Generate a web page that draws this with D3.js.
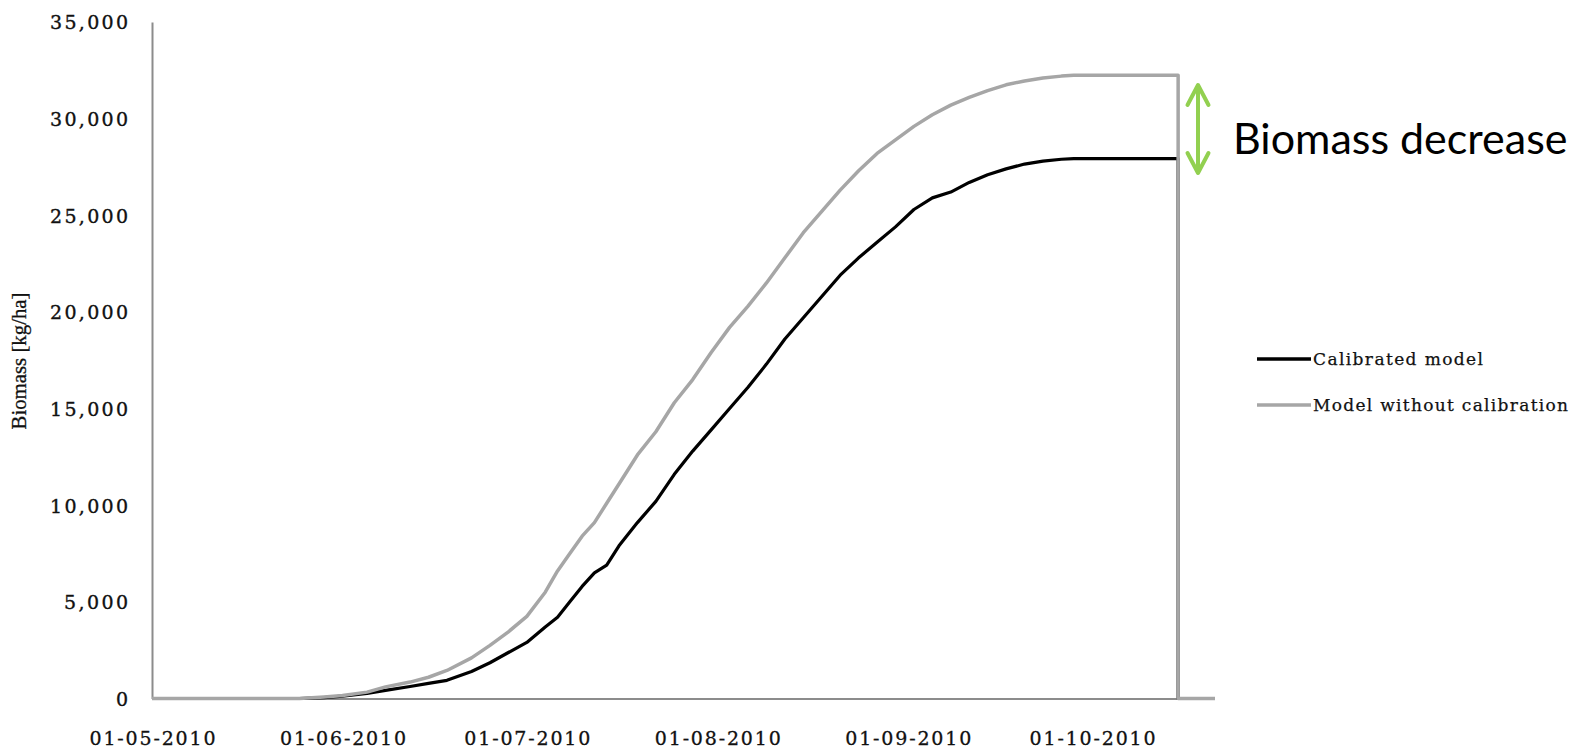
<!DOCTYPE html>
<html>
<head>
<meta charset="utf-8">
<script src="https://cdn.jsdelivr.net/npm/d3@7"></script>
<style>
  html, body { margin: 0; padding: 0; background: #ffffff; }
  svg { display: block; }
</style>
</head>
<body>
<svg id="chart" width="1585" height="751"></svg>
<script>
// ---- data ----
const dates = ["2010-05-01","2010-05-25","2010-05-29","2010-06-01","2010-06-05","2010-06-08","2010-06-12","2010-06-15","2010-06-18","2010-06-22","2010-06-25","2010-06-28","2010-07-01","2010-07-04","2010-07-06","2010-07-08","2010-07-10","2010-07-12","2010-07-14","2010-07-16","2010-07-19","2010-07-22","2010-07-25","2010-07-28","2010-07-31","2010-08-03","2010-08-06","2010-08-09","2010-08-12","2010-08-15","2010-08-18","2010-08-21","2010-08-24","2010-08-27","2010-08-30","2010-09-02","2010-09-05","2010-09-08","2010-09-11","2010-09-14","2010-09-17","2010-09-20","2010-09-23","2010-09-26","2010-09-28","2010-10-15","2010-10-15","2010-10-21"];
const calibrated = [0,0,50,120,260,420,620,780,940,1400,1850,2380,2900,3700,4200,5000,5800,6500,6900,7900,9100,10200,11600,12800,13900,15000,16100,17300,18600,19700,20800,21900,22800,23600,24400,25300,25900,26200,26700,27100,27400,27650,27800,27900,27930,27930,0,0];
const uncalibrated = [0,0,80,150,330,600,850,1100,1450,2100,2750,3450,4250,5500,6600,7500,8400,9100,10100,11100,12600,13800,15300,16500,17900,19200,20300,21500,22800,24100,25200,26300,27300,28200,28900,29600,30200,30700,31100,31450,31750,31950,32100,32200,32240,32240,0,0];
const seriesNames = ["Calibrated model", "Model without calibration"];
const xTickDates = ["2010-05-01","2010-06-01","2010-07-01","2010-08-01","2010-09-01","2010-10-01"];
const yTicks = [0,5000,10000,15000,20000,25000,30000,35000];
const axisTitle = "Biomass [kg/ha]";
const annotation = "Biomass decrease";

// ---- scales ----
const parse = d3.timeParse("%Y-%m-%d");
const svg = d3.select("#chart");
const x = d3.scaleTime()
  .domain([parse("2010-05-01"), parse("2010-10-21")])
  .range([152, 1215]);
const y = d3.scaleLinear().domain([0, 35000]).range([698.5, 22]);

const axisColor = "#8c8c8c";
const textColor = "#111111";

// ---- y axis ----
const yAxis = d3.axisLeft(y).tickValues(yTicks).tickFormat(d3.format(",")).tickSize(0).tickPadding(24);
const gy = svg.append("g").attr("transform", "translate(152,0)").call(yAxis);
gy.select(".domain").attr("stroke", axisColor).attr("stroke-width", 2);
gy.selectAll("text")
  .attr("font-family", "'DejaVu Serif', serif")
  .attr("font-size", 19)
  .attr("fill", textColor)
  .attr("stroke", textColor).attr("stroke-width", 0.35)
  .attr("dy", "0.36em")
  .each(function(d) {
    const s = d3.format(",")(d);
    const w = s.length === 6 ? 78 : s.length === 5 ? 64 : 13;
    d3.select(this).attr("textLength", w).attr("lengthAdjust", "spacing");
  });

// ---- x axis ----
const xEnd = parse("2010-10-15");
const xa = x.copy().domain([parse("2010-05-01"), xEnd]).range([x(parse("2010-05-01")), x(xEnd)]);
const xAxis = d3.axisBottom(xa).tickValues(xTickDates.map(parse)).tickFormat(d3.timeFormat("%d-%m-%Y")).tickSize(0).tickPadding(33);
const gx = svg.append("g").attr("transform", "translate(0," + y(0) + ")").call(xAxis);
gx.select(".domain").attr("stroke", axisColor).attr("stroke-width", 2);
gx.selectAll("text")
  .attr("font-family", "'DejaVu Serif', serif")
  .attr("font-size", 19)
  .attr("fill", textColor)
  .attr("stroke", textColor).attr("stroke-width", 0.3)
  .attr("textLength", 126)
  .attr("lengthAdjust", "spacing");

// ---- axis title ----
svg.append("text")
  .attr("transform", "translate(26,361) rotate(-90)")
  .attr("text-anchor", "middle")
  .attr("font-family", "'Liberation Serif', serif")
  .attr("font-size", 21)
  .attr("fill", textColor)
  .attr("stroke", textColor).attr("stroke-width", 0.3)
  .attr("textLength", 137)
  .attr("lengthAdjust", "spacingAndGlyphs")
  .text(axisTitle);

// ---- lines ----
const toPts = vals => dates.map((d, i) => ({ date: parse(d), v: vals[i] }));
const line = d3.line().x(d => x(d.date)).y(d => y(d.v));
svg.append("path").datum(toPts(calibrated))
  .attr("fill", "none").attr("stroke", "#000000").attr("stroke-width", 3.2)
  .attr("stroke-linejoin", "round").attr("d", line);
svg.append("path").datum(toPts(uncalibrated))
  .attr("fill", "none").attr("stroke", "#a6a6a6").attr("stroke-width", 3.5)
  .attr("stroke-linejoin", "round").attr("d", line);

// ---- legend ----
const legColors = ["#000000", "#a6a6a6"];
const legY = [359, 405];
const legW = [170, 255];
seriesNames.forEach((name, i) => {
  svg.append("line").attr("x1", 1257).attr("x2", 1311).attr("y1", legY[i]).attr("y2", legY[i])
    .attr("stroke", legColors[i]).attr("stroke-width", 3.5);
  svg.append("text").attr("x", 1313).attr("y", legY[i]).attr("dy", "0.35em")
    .attr("font-family", "'DejaVu Serif', serif").attr("font-size", 17)
    .attr("fill", textColor)
    .attr("stroke", textColor).attr("stroke-width", 0.25)
    .attr("textLength", legW[i]).attr("lengthAdjust", "spacing")
    .text(name);
});

// ---- annotation arrow ----
const green = "#92d050";
const ax = 1198, ay1 = 85, ay2 = 173;
svg.append("line").attr("x1", ax).attr("x2", ax).attr("y1", ay1 + 1).attr("y2", ay2 - 1)
  .attr("stroke", green).attr("stroke-width", 4);
svg.append("path").attr("d", `M${ax-10.5},${ay1+20} L${ax},${ay1} L${ax+10.5},${ay1+20}`)
  .attr("fill", "none").attr("stroke", green).attr("stroke-width", 4).attr("stroke-linecap", "round").attr("stroke-linejoin", "round");
svg.append("path").attr("d", `M${ax-10.5},${ay2-20} L${ax},${ay2} L${ax+10.5},${ay2-20}`)
  .attr("fill", "none").attr("stroke", green).attr("stroke-width", 4).attr("stroke-linecap", "round").attr("stroke-linejoin", "round");
svg.append("text").attr("x", 1233).attr("y", 154)
  .attr("font-family", "Lato, 'Open Sans', sans-serif").attr("font-size", 43)
  .attr("fill", "#000000")
  .text(annotation);
</script>
</body>
</html>
